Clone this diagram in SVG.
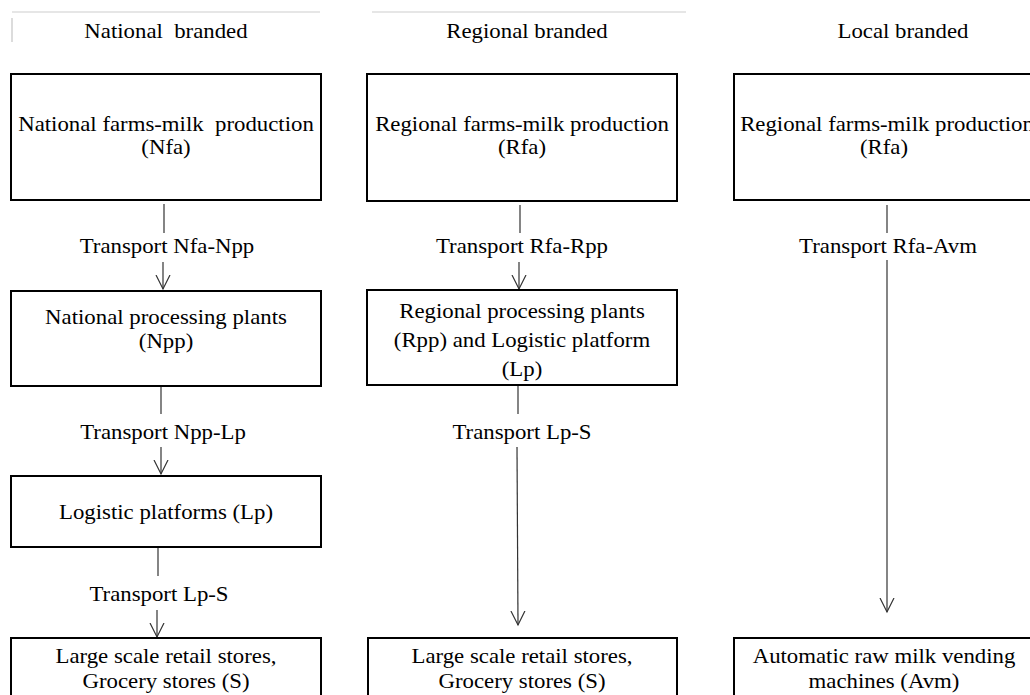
<svg xmlns="http://www.w3.org/2000/svg" width="1030" height="695" viewBox="0 0 1030 695">
<style>
.t{font-family:"Liberation Serif","Times New Roman",serif;font-size:20px;fill:#000;text-anchor:middle;white-space:pre}
.box{fill:#fff;stroke:#000;stroke-width:2}
.c{stroke:#333;stroke-width:1.2;fill:none}
.deco{stroke:#e6e6e6;stroke-width:2;fill:none}
</style>
<defs>
<marker id="arr" markerUnits="userSpaceOnUse" markerWidth="16" markerHeight="16" refX="14" refY="8" orient="auto" viewBox="0 0 16 16">
<path d="M0,1 L14,8 L0,15" fill="none" stroke="#333" stroke-width="1.2"/>
</marker>
</defs>
<rect width="1030" height="695" fill="#fff"/>
<g id="headers">
<path class="deco" d="M12,12 H320 M372,12 H686"/>
<path d="M12,18 V42" stroke="#d0d0d0" stroke-width="1.5"/>
<text class="t" xml:space="preserve" transform="translate(166 38) scale(1.14 1)">National  branded</text>
<text class="t" transform="translate(527 38) scale(1.14 1)">Regional branded</text>
<text class="t" transform="translate(903 38) scale(1.14 1)">Local branded</text>
</g>
<g id="connectors">
<path class="c" d="M164,204 V233"/>
<path class="c" d="M163,262 V289" marker-end="url(#arr)"/>
<path class="c" d="M161,386 V414"/>
<path class="c" d="M161,447 V474" marker-end="url(#arr)"/>
<path class="c" d="M158,547 V576"/>
<path class="c" d="M157,610 V637" marker-end="url(#arr)"/>
<path class="c" d="M520,205 V233"/>
<path class="c" d="M519,262 V289" marker-end="url(#arr)"/>
<path class="c" d="M518,385 V414"/>
<path class="c" d="M517,447 L518,625" marker-end="url(#arr)"/>
<path class="c" d="M887,205 V233"/>
<path class="c" d="M887,260 V612" marker-end="url(#arr)"/>
<text class="t" transform="translate(167 253) scale(1.14 1)">Transport Nfa-Npp</text>
<text class="t" transform="translate(163 439) scale(1.14 1)">Transport Npp-Lp</text>
<text class="t" transform="translate(159 601) scale(1.14 1)">Transport Lp-S</text>
<text class="t" transform="translate(522 253) scale(1.14 1)">Transport Rfa-Rpp</text>
<text class="t" transform="translate(522 439) scale(1.14 1)">Transport Lp-S</text>
<text class="t" transform="translate(888 253) scale(1.14 1)">Transport Rfa-Avm</text>
</g>
<g id="nfa">
<rect class="box" x="11" y="74" width="310" height="126"/>
<text class="t" xml:space="preserve" transform="translate(166 131) scale(1.14 1)">National farms-milk  production</text>
<text class="t" transform="translate(166 154) scale(1.14 1)">(Nfa)</text>
</g>
<g id="npp">
<rect class="box" x="11" y="291" width="310" height="95"/>
<text class="t" transform="translate(166 324) scale(1.14 1)">National processing plants</text>
<text class="t" transform="translate(166 348) scale(1.14 1)">(Npp)</text>
</g>
<g id="lp">
<rect class="box" x="11" y="476" width="310" height="71"/>
<text class="t" transform="translate(166 519) scale(1.14 1)">Logistic platforms (Lp)</text>
</g>
<g id="s-national">
<rect class="box" x="11" y="638" width="310" height="70"/>
<text class="t" transform="translate(166 663) scale(1.14 1)">Large scale retail stores,</text>
<text class="t" transform="translate(166 688) scale(1.14 1)">Grocery stores (S)</text>
</g>
<g id="rfa">
<rect class="box" x="367" y="74" width="310" height="127"/>
<text class="t" transform="translate(522 131) scale(1.14 1)">Regional farms-milk production</text>
<text class="t" transform="translate(522 154) scale(1.14 1)">(Rfa)</text>
</g>
<g id="rpp">
<rect class="box" x="367" y="290" width="310" height="95"/>
<text class="t" transform="translate(522 318) scale(1.14 1)">Regional processing plants</text>
<text class="t" transform="translate(522 347) scale(1.14 1)">(Rpp) and Logistic platform</text>
<text class="t" transform="translate(522 376) scale(1.14 1)">(Lp)</text>
</g>
<g id="s-regional">
<rect class="box" x="368" y="638" width="309" height="70"/>
<text class="t" transform="translate(522 663) scale(1.14 1)">Large scale retail stores,</text>
<text class="t" transform="translate(522 688) scale(1.14 1)">Grocery stores (S)</text>
</g>
<g id="rfa-local">
<rect class="box" x="734" y="74" width="320" height="126"/>
<text class="t" transform="translate(887 131) scale(1.14 1)">Regional farms-milk production</text>
<text class="t" transform="translate(884 154) scale(1.14 1)">(Rfa)</text>
</g>
<g id="avm">
<rect class="box" x="734" y="638" width="320" height="70"/>
<text class="t" transform="translate(884 663) scale(1.14 1)">Automatic raw milk vending</text>
<text class="t" transform="translate(884 688) scale(1.14 1)">machines (Avm)</text>
</g>
</svg>
